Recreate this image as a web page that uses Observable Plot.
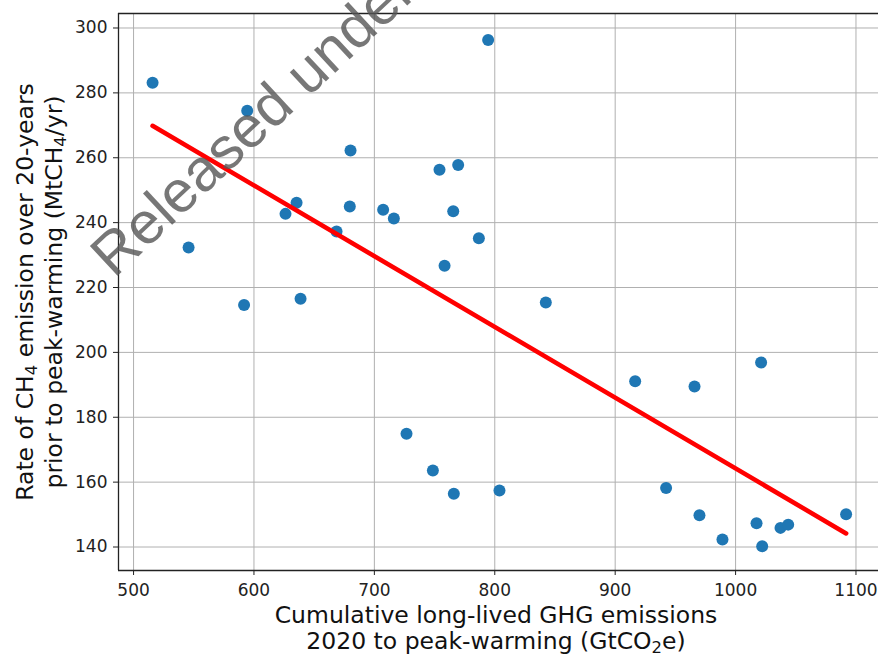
<!DOCTYPE html>
<html>
<head>
<meta charset="utf-8">
<script src="https://cdn.jsdelivr.net/npm/d3@7"></script>
<script src="https://cdn.jsdelivr.net/npm/@observablehq/plot@0.6"></script>
<style>
  html, body { margin: 0; padding: 0; background: white; }
  #chart { width: 878px; height: 654px; overflow: hidden; }
</style>
</head>
<body>
<div id="chart"></div>
<script>
// Cumulative long-lived GHG emissions 2020 to peak-warming (GtCO2e)
const cumulativeGHG = [515.8, 545.7, 591.8, 594.4, 626.2, 635.4, 638.7, 668.6, 679.6, 680.2,
  707.3, 716.2, 754.1, 769.6, 758.3, 765.5, 786.8, 794.5, 842.4, 726.7,
  748.6, 766.0, 803.9, 916.6, 965.9, 1021.2, 942.3, 970.0, 989.1, 1017.4,
  1022.1, 1037.3, 1043.7, 1091.8];
// Rate of CH4 emission over 20 years prior to peak-warming (MtCH4/yr)
const ch4Rate = [283.1, 232.3, 214.6, 274.5, 242.7, 246.1, 216.5, 237.3, 245.0, 262.2,
  244.0, 241.3, 256.3, 257.8, 226.7, 243.5, 235.2, 296.3, 215.4, 174.9,
  163.6, 156.4, 157.4, 191.1, 189.5, 196.9, 158.2, 149.8, 142.3, 147.3,
  140.2, 145.9, 146.9, 150.1];

const xTicks = [500, 600, 700, 800, 900, 1000, 1100];
const yTicks = [140, 160, 180, 200, 220, 240, 260, 280, 300];
const xDomain = [487.5, 1118.7];
const yDomain = [132.76, 304.47];

const data = cumulativeGHG.map((x, i) => ({x, y: ch4Rate[i]}));

const chart = Plot.plot({
  width: 878,
  height: 654,
  marginLeft: 118,
  marginRight: 0,
  marginTop: 13,
  marginBottom: 84,
  style: {fontFamily: "DejaVu Sans", fontSize: "17px", color: "#222", background: "white"},
  x: {domain: xDomain},
  y: {domain: yDomain},
  marks: [
    Plot.gridX(xTicks, {stroke: "#b0b0b0", strokeOpacity: 1, strokeWidth: 1}),
    Plot.gridY(yTicks, {stroke: "#b0b0b0", strokeOpacity: 1, strokeWidth: 1}),
    Plot.axisX(xTicks, {tickSize: 5, tickPadding: 8, label: null, fontSize: 17, stroke: "#222", tickFormat: d => String(d)}),
    Plot.axisY(yTicks, {tickSize: 5, tickPadding: 6, label: null, fontSize: 17, stroke: "#222", tickFormat: d => String(d)}),
    Plot.ruleX([xDomain[0]], {stroke: "#222", strokeWidth: 1.3}),
    Plot.ruleY(yDomain, {stroke: "#222", strokeWidth: 1.3}),
    Plot.dot(data, {x: "x", y: "y", r: 6, fill: "#1f77b4", stroke: null}),
    Plot.linearRegressionY(data, {x: "x", y: "y", ci: 0, stroke: "red", strokeWidth: 4.6})
  ]
});

const svg = d3.select(chart);
const labelFont = "DejaVu Sans";
const labelSize = 23.5;

function addLabel(g, parts) {
  const t = g.append("text")
    .attr("font-family", labelFont)
    .attr("font-size", labelSize)
    .attr("fill", "#111")
    .attr("text-anchor", "middle");
  let shifted = false;
  parts.forEach(p => {
    if (typeof p === "string") {
      const s = t.append("tspan").text(p);
      if (shifted) { s.attr("dy", (-labelSize * 0.7 * 0.25) + "px"); shifted = false; }
    } else {
      t.append("tspan").attr("font-size", labelSize * 0.7).attr("dy", (labelSize * 0.7 * 0.25) + "px").text(p.sub);
      shifted = true;
    }
  });
  return t;
}

// x-axis label
const gx = svg.append("g");
addLabel(gx, ["Cumulative long-lived GHG emissions"]).attr("x", 496).attr("y", 623);
addLabel(gx, ["2020 to peak-warming (GtCO", {sub: "2"}, "e)"]).attr("x", 496).attr("y", 649);

// y-axis label
const gy1 = svg.append("g").attr("transform", "translate(33,292) rotate(-90)");
addLabel(gy1, ["Rate of CH", {sub: "4"}, " emission over 20-years"]);
const gy2 = svg.append("g").attr("transform", "translate(61.5,292) rotate(-90)");
addLabel(gy2, ["prior to peak-warming (MtCH", {sub: "4"}, "/yr)"]);

// watermark
svg.append("text")
  .attr("transform", "translate(114,279) rotate(-43)")
  .attr("text-anchor", "start")
  .attr("font-family", "Liberation Sans")
  .attr("font-size", 59)
  .attr("fill", "#555")
  .attr("fill-opacity", 0.8)
  .text("Released under");

document.getElementById("chart").appendChild(chart);
</script>
</body>
</html>
